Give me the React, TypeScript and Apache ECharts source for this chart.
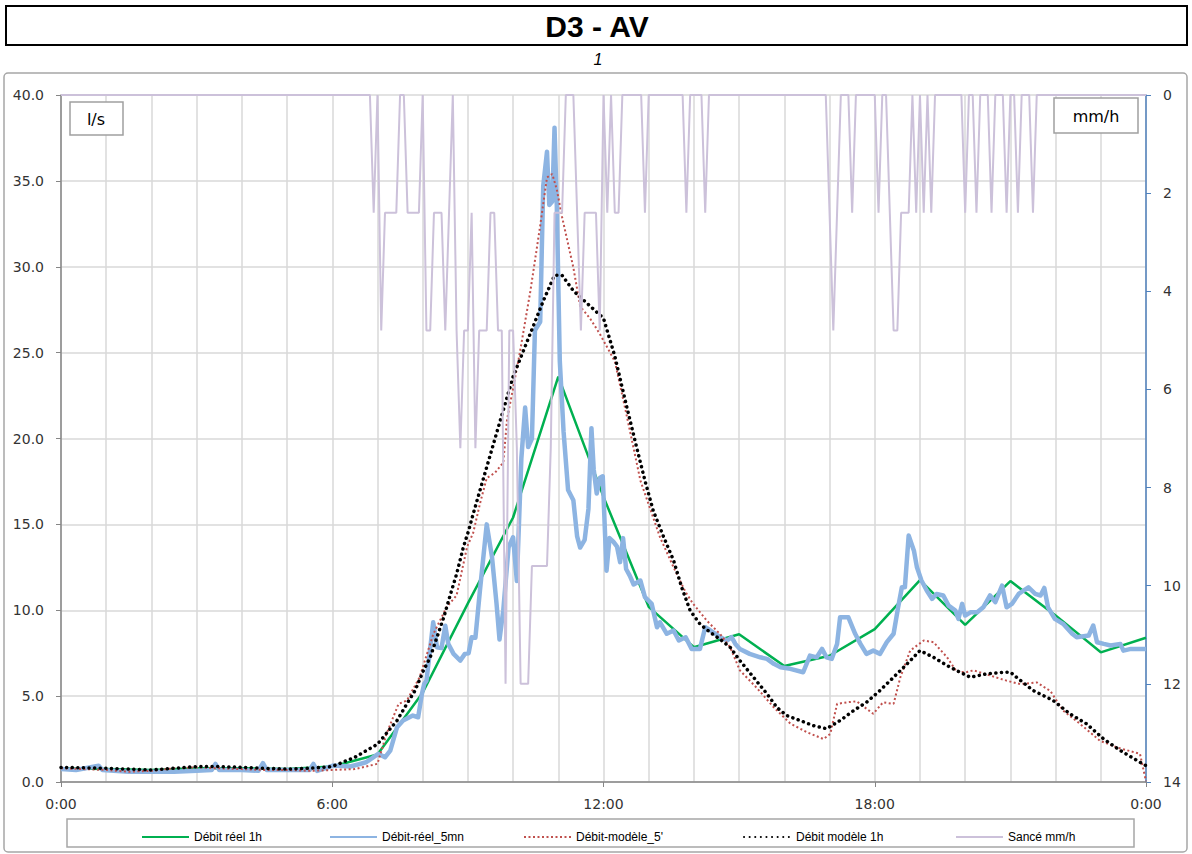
import React, { useEffect, useRef } from "react";
import * as echarts from "echarts";

// Hourly measured flow (l/s), 0:00 .. 24:00
const debitReel1h = [
  0.8, 0.75, 0.7, 0.8, 0.8, 0.75, 0.9, 1.6, 5.2, 10.4, 15.4, 23.6, 16.6, 10.2,
  7.85, 8.6, 6.75, 7.35, 8.9, 11.75, 9.15, 11.7, 9.7, 7.55, 8.4,
];

// 5-minute measured flow (minute of day, l/s)
const debitReel5mn: [number, number][] = [
  [0, 0.75], [20, 0.7], [50, 0.95], [55, 0.7], [90, 0.6], [120, 0.6], [150, 0.6],
  [180, 0.65], [200, 0.7], [205, 1.05], [210, 0.7], [240, 0.7], [262, 0.65],
  [268, 1.1], [273, 0.7], [300, 0.7], [330, 0.7], [335, 1.05], [340, 0.65],
  [361, 0.96], [384, 0.9], [405, 1.15], [421, 1.64], [430, 1.44], [437, 1.83],
  [446, 3.19], [454, 3.58], [467, 3.87], [474, 3.77], [479, 5.13], [482, 5.7],
  [485, 5.9], [494, 9.3], [499, 7.85], [505, 7.8], [510, 9.1], [514, 8.04],
  [521, 7.46], [530, 7.07], [536, 7.46], [541, 7.5], [545, 8.43], [550, 8.4],
  [556, 11.15], [565, 15.0], [572, 13.1], [578, 10.4], [582, 8.3], [587, 10.0],
  [594, 13.67], [600, 14.25], [605, 11.7], [611, 18.85], [616, 21.8], [620, 19.5],
  [625, 20.0], [629, 26.3], [636, 26.8], [640, 34.7], [645, 36.7], [648, 33.6],
  [652, 33.8], [655, 38.1], [658, 33.6], [662, 24.5], [667, 20.4], [673, 17.0],
  [680, 16.4], [685, 14.3], [689, 13.65], [695, 14.1], [700, 15.9], [704, 20.6],
  [707, 18.2], [711, 16.8], [715, 17.7], [719, 17.8], [724, 12.3], [728, 14.2],
  [733, 14.0], [738, 13.7], [742, 12.8], [746, 14.2], [750, 12.4], [755, 12.0],
  [760, 11.5], [769, 11.73], [775, 10.76], [784, 10.37], [791, 9.01], [795, 9.3],
  [804, 8.63], [813, 8.82], [820, 8.24], [829, 8.43], [837, 7.75], [848, 7.75],
  [855, 9.01], [862, 8.82], [875, 8.43], [884, 8.24], [890, 8.43], [895, 8.04],
  [901, 7.75], [914, 7.46], [928, 7.26], [937, 7.17], [946, 6.88], [955, 6.68],
  [968, 6.59], [985, 6.39], [994, 7.36], [1003, 7.26], [1010, 7.75], [1016, 7.26],
  [1023, 7.17], [1030, 8.04], [1034, 9.59], [1045, 9.59], [1054, 8.63],
  [1061, 8.04], [1069, 7.46], [1078, 7.65], [1087, 7.46], [1096, 8.14],
  [1105, 8.63], [1111, 10.17], [1116, 11.34], [1120, 11.34], [1125, 14.35],
  [1132, 13.47], [1136, 12.5], [1142, 11.73], [1149, 11.15], [1156, 10.66],
  [1162, 10.95], [1171, 10.86], [1178, 10.27], [1187, 9.98], [1191, 9.5],
  [1196, 10.37], [1200, 9.69], [1207, 9.88], [1216, 9.88], [1224, 10.17],
  [1233, 10.86], [1240, 10.47], [1249, 11.44], [1255, 10.17], [1262, 10.37],
  [1271, 10.95], [1284, 11.34], [1293, 10.95], [1300, 10.86], [1305, 11.3],
  [1310, 10.17], [1319, 9.5], [1330, 9.21], [1342, 8.63], [1348, 8.43],
  [1364, 8.53], [1370, 9.11], [1375, 8.14], [1384, 8.04], [1393, 7.95],
  [1406, 8.04], [1410, 7.65], [1420, 7.75], [1440, 7.75],
];

// 5-minute model flow (minute of day, l/s)
const debitModele5: [number, number][] = [
  [0, 0.8], [30, 0.75], [60, 0.7], [90, 0.6], [120, 0.65], [150, 0.8], [180, 0.85],
  [210, 0.8], [240, 0.75], [270, 0.7], [300, 0.7], [330, 0.65], [360, 0.7],
  [390, 0.75], [420, 1.06], [432, 2.8], [448, 4.55], [459, 4.74], [476, 6.1],
  [494, 8.6], [512, 10.2], [525, 10.86], [539, 13.7], [547, 14.5], [556, 16.2],
  [565, 17.7], [576, 18.0], [587, 18.6], [592, 21.1], [609, 25.0], [623, 28.6],
  [636, 32.4], [645, 35.2], [652, 35.4], [658, 34.5], [665, 32.9], [680, 29.95],
  [689, 27.7], [702, 27.0], [715, 26.1], [735, 24.5], [750, 21.5], [769, 17.55],
  [795, 14.25], [813, 12.5], [829, 11.05], [839, 10.37], [857, 9.4], [875, 8.6],
  [888, 7.85], [901, 6.5], [923, 5.5], [946, 4.35], [968, 3.4], [990, 2.9],
  [1012, 2.5], [1021, 2.8], [1030, 4.55], [1043, 4.64], [1056, 4.7], [1078, 3.97],
  [1091, 4.64], [1105, 4.55], [1114, 6.1], [1127, 7.65], [1145, 8.24], [1158, 8.14],
  [1176, 7.26], [1189, 6.4], [1202, 6.4], [1211, 6.5], [1233, 6.2], [1255, 5.9],
  [1273, 5.7], [1295, 5.8], [1313, 5.3], [1330, 4.16], [1352, 3.4], [1379, 2.4],
  [1402, 2.0], [1432, 1.64], [1440, 0.05],
];

// Hourly model flow (minute of day, l/s)
const debitModele1h: [number, number][] = [
  [0, 0.85], [60, 0.8], [90, 0.75], [120, 0.7], [150, 0.8], [180, 0.9], [210, 0.9],
  [240, 0.85], [270, 0.8], [300, 0.75], [330, 0.8], [360, 0.9], [390, 1.44],
  [420, 2.2], [446, 3.58], [459, 4.55], [470, 5.33], [481, 6.49], [490, 7.26],
  [499, 8.43], [508, 9.59], [517, 10.95], [525, 12.1], [534, 13.67], [541, 14.64],
  [547, 15.6], [556, 16.97], [580, 20.6], [600, 23.6], [620, 25.8], [640, 28.0],
  [655, 29.5], [665, 29.5], [680, 28.6], [700, 27.8], [720, 27.0], [735, 24.8],
  [750, 22.0], [765, 19.3], [775, 17.55], [786, 15.8], [800, 14.25], [813, 12.9],
  [824, 11.3], [835, 9.98], [848, 9.2], [862, 8.7], [875, 8.3], [888, 7.85],
  [901, 7.07], [919, 6.1], [937, 5.13], [950, 4.35], [963, 3.87], [981, 3.58],
  [998, 3.29], [1016, 3.1], [1034, 3.58], [1052, 4.16], [1069, 4.64], [1087, 5.33],
  [1105, 6.1], [1123, 6.88], [1140, 7.65], [1158, 7.26], [1176, 6.78], [1193, 6.39],
  [1207, 6.1], [1229, 6.3], [1251, 6.39], [1260, 6.4], [1268, 6.1], [1290, 5.33],
  [1317, 4.74], [1339, 3.97], [1361, 3.39], [1384, 2.5], [1406, 1.83],
  [1432, 1.15], [1440, 0.95],
];

// Rain intensity (mm/h), one row per hour, 5-minute steps (:00 .. :55)
const sanceRows = [
  [0, 0, 0, 0, 0, 0, 0, 0, 0, 0, 0, 0],
  [0, 0, 0, 0, 0, 0, 0, 0, 0, 0, 0, 0],
  [0, 0, 0, 0, 0, 0, 0, 0, 0, 0, 0, 0],
  [0, 0, 0, 0, 0, 0, 0, 0, 0, 0, 0, 0],
  [0, 0, 0, 0, 0, 0, 0, 0, 0, 0, 0, 0],
  [0, 0, 0, 0, 0, 0, 0, 0, 0, 0, 0, 0],
  [0, 0, 0, 0, 0, 0, 0, 0, 0, 0, 0, 2.4],
  [0, 4.8, 2.4, 2.4, 2.4, 2.4, 0, 0, 2.4, 2.4, 2.4, 2.4],
  [0, 4.8, 4.8, 2.4, 2.4, 2.4, 4.8, 2.4, 0, 4.8, 7.2, 4.8],
  [4.8, 2.4, 7.2, 4.8, 4.8, 4.8, 2.4, 2.4, 4.8, 4.8, 12.0, 4.8],
  [4.8, 7.2, 12.0, 12.0, 12.0, 9.6, 9.6, 9.6, 9.6, 9.6, 7.2, 2.4],
  [2.4, 2.4, 0, 0, 0, 2.4, 4.8, 2.4, 2.4, 2.4, 2.4, 4.8],
  [0, 2.4, 0, 2.4, 2.4, 0, 0, 0, 0, 0, 0, 2.4],
  [0, 0, 0, 0, 0, 0, 0, 0, 0, 0, 2.4, 0],
  [0, 0, 0, 2.4, 0, 0, 0, 0, 0, 0, 0, 0],
  [0, 0, 0, 0, 0, 0, 0, 0, 0, 0, 0, 0],
  [0, 0, 0, 0, 0, 0, 0, 0, 0, 0, 0, 0],
  [2.4, 4.8, 2.4, 0, 0, 0, 2.4, 0, 0, 0, 0, 0],
  [0, 2.4, 0, 0, 2.4, 4.8, 4.8, 2.4, 2.4, 2.4, 0, 2.4],
  [0, 2.4, 0, 2.4, 0, 0, 0, 0, 0, 0, 0, 0],
  [2.4, 0, 0, 2.4, 0, 0, 0, 2.4, 0, 0, 0, 2.4],
  [0, 0, 2.4, 0, 0, 0, 2.4, 0, 0, 0, 0, 0],
  [0, 0, 0, 0, 0, 0, 0, 0, 0, 0, 0, 0],
  [0, 0, 0, 0, 0, 0, 0, 0, 0, 0, 0, 0],
];
const sanceEnd = 0; // value at 24:00

const seriesNames = [
  "Débit réel 1h",
  "Débit-réel_5mn",
  "Débit-modèle_5'",
  "Débit modèle 1h",
  "Sancé mm/h",
];

const byMinute = (pts: [number, number][]) => pts.map(([m, v]) => [m / 60, v]);

export default function App() {
  const ref = useRef<HTMLDivElement>(null);

  useEffect(() => {
    if (!ref.current) return;
    const chart = echarts.init(ref.current, null, { renderer: "svg" });

    const sanceData: number[][] = [];
    sanceRows.forEach((row, h) =>
      row.forEach((v, k) => sanceData.push([h + (k * 5) / 60, v]))
    );
    sanceData.push([24, sanceEnd]);

    const grid = "#D9D9D9";
    const axisGrey = "#868686";
    const legendFont = {
      fontSize: 12,
      color: "#000",
      fontFamily: "'Liberation Sans Narrow', 'Liberation Sans', sans-serif",
    };
    const legendX = [136, 324, 518, 738, 950];

    chart.setOption({
      animation: false,
      backgroundColor: "#ffffff",
      textStyle: { fontFamily: "'DejaVu Sans', sans-serif" },
      grid: { left: 61, right: 46, top: 95, bottom: 72 },
      legend: seriesNames.map((n, i) => ({
        data: [n],
        left: legendX[i],
        top: 826,
        itemWidth: 47,
        itemHeight: 12,
        itemGap: 0,
        itemStyle: { opacity: 0 },
        textStyle: legendFont,
      })),
      xAxis: {
        type: "value",
        min: 0,
        max: 24,
        interval: 6,
        axisLine: { lineStyle: { color: axisGrey, width: 1.5 } },
        axisTick: { show: true, length: 5, lineStyle: { color: axisGrey } },
        axisLabel: {
          formatter: (v: number) => `${v % 24}:00`,
          fontSize: 14,
          color: "#333",
          margin: 15,
        },
        splitLine: { show: true, lineStyle: { color: grid, width: 1.5 } },
        minorTick: { show: false, splitNumber: 6 },
        minorSplitLine: { show: true, lineStyle: { color: grid, width: 1.5 } },
      },
      yAxis: [
        {
          type: "value",
          min: 0,
          max: 40,
          interval: 5,
          position: "left",
          axisLine: { show: true, lineStyle: { color: axisGrey, width: 1.5 } },
          axisTick: { show: true, length: 5, lineStyle: { color: axisGrey } },
          axisLabel: {
            formatter: (v: number) => v.toFixed(1),
            fontSize: 14,
            color: "#333",
            margin: 17,
          },
          splitLine: { show: true, lineStyle: { color: grid, width: 1.5 } },
        },
        {
          type: "value",
          min: 0,
          max: 14,
          interval: 2,
          inverse: true,
          position: "right",
          axisLine: { show: true, lineStyle: { color: "#4F81BD", width: 1.5 } },
          axisTick: { show: true, length: 5, lineStyle: { color: "#4F81BD" } },
          axisLabel: { fontSize: 14, color: "#333", margin: 17 },
          splitLine: { show: false },
        },
      ],
      series: [
        {
          name: seriesNames[0],
          type: "line",
          data: debitReel1h.map((v, h) => [h, v]),
          symbol: "none",
          lineStyle: { color: "#00B050", width: 2.5 },
          itemStyle: { color: "#00B050" },
          z: 2,
        },
        {
          name: seriesNames[1],
          type: "line",
          data: byMinute(debitReel5mn),
          symbol: "none",
          lineStyle: { color: "#8DB4E2", width: 4.5, join: "round" },
          itemStyle: { color: "#8DB4E2" },
          z: 3,
        },
        {
          name: seriesNames[2],
          type: "line",
          data: byMinute(debitModele5),
          symbol: "none",
          lineStyle: { color: "#C0504D", width: 2, type: [2, 2.5] },
          itemStyle: { color: "#C0504D" },
          z: 4,
        },
        {
          name: seriesNames[3],
          type: "line",
          data: byMinute(debitModele1h),
          symbol: "none",
          lineStyle: { color: "#000000", width: 3.5, type: [0.1, 5.5], cap: "round" },
          itemStyle: { color: "#000000" },
          z: 5,
        },
        {
          name: seriesNames[4],
          type: "line",
          yAxisIndex: 1,
          data: sanceData,
          symbol: "none",
          lineStyle: { color: "#CCC1DA", width: 2 },
          itemStyle: { color: "#CCC1DA" },
          z: 6,
        },
      ],
      graphic: [
        {
          type: "rect",
          z: 1,
          shape: { x: 4, y: 73, width: 1183, height: 779, r: 4 },
          style: { fill: "none", stroke: "#A6A6A6", lineWidth: 1.5 },
        },
        {
          type: "rect",
          z: 10,
          shape: { x: 6, y: 6, width: 1181, height: 39 },
          style: { fill: "#fff", stroke: "#000", lineWidth: 2 },
        },
        {
          type: "text",
          z: 11,
          x: 597,
          y: 26,
          style: {
            text: "D3 - AV",
            fontSize: 30,
            fontWeight: "bold",
            fontFamily: "'Liberation Sans Narrow', 'Liberation Sans', sans-serif",
            fill: "#000",
            align: "center",
            verticalAlign: "middle",
          },
        },
        {
          type: "text",
          z: 11,
          x: 598,
          y: 59,
          style: {
            text: "1",
            fontSize: 16,
            fontStyle: "italic",
            fontFamily: "'Liberation Sans', sans-serif",
            fill: "#000",
            align: "center",
            verticalAlign: "middle",
          },
        },
        {
          type: "rect",
          z: 10,
          shape: { x: 70, y: 102, width: 53, height: 33 },
          style: { fill: "#fff", stroke: "#A0A0A0", lineWidth: 1.5 },
        },
        {
          type: "text",
          z: 11,
          x: 96,
          y: 119,
          style: {
            text: "l/s",
            fontSize: 16,
            fontFamily: "'DejaVu Sans', sans-serif",
            fill: "#000",
            align: "center",
            verticalAlign: "middle",
          },
        },
        {
          type: "rect",
          z: 10,
          shape: { x: 1054, y: 98, width: 84, height: 35 },
          style: { fill: "#fff", stroke: "#A0A0A0", lineWidth: 1.5 },
        },
        {
          type: "text",
          z: 11,
          x: 1096,
          y: 116,
          style: {
            text: "mm/h",
            fontSize: 16,
            fontFamily: "'DejaVu Sans', sans-serif",
            fill: "#000",
            align: "center",
            verticalAlign: "middle",
          },
        },
        {
          type: "rect",
          z: 1,
          shape: { x: 67, y: 819, width: 1067, height: 28 },
          style: { fill: "none", stroke: "#A6A6A6", lineWidth: 1.5 },
        },
      ],
    });

    return () => chart.dispose();
  }, []);

  return (
    <div
      ref={ref}
      style={{
        position: "fixed",
        left: 0,
        top: 0,
        width: 1192,
        height: 854,
        background: "#fff",
      }}
    />
  );
}
